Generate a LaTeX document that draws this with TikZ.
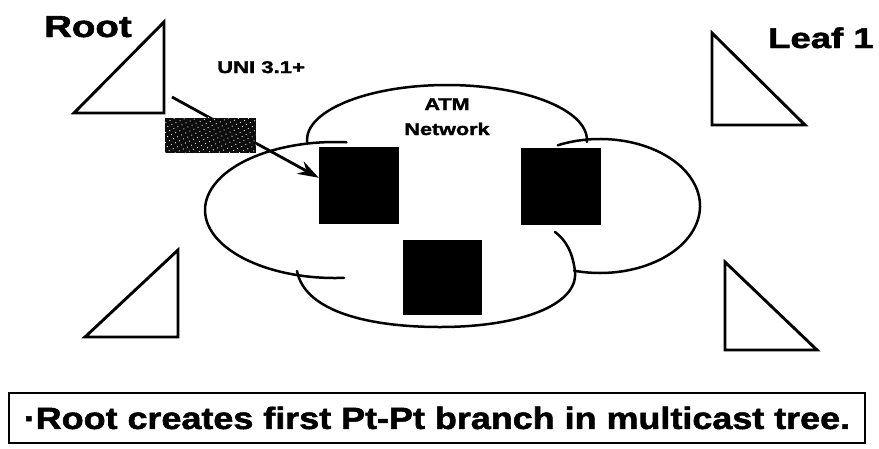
\documentclass[tikz,border=0pt]{standalone}
\usepackage{fontspec}
\setmainfont{Liberation Sans}[BoldFeatures={FakeBold=1.6}]
\usetikzlibrary{arrows.meta,patterns.meta,calc}

% horizontally widened heavy lettering
\newcommand\widetxt[3]{{\fontsize{#1}{#1}\selectfont\bfseries\scalebox{#2}[1]{#3}}}

\begin{document}
\begin{tikzpicture}[x=1pt,y=-1pt,
  tri/.style={line width=2.9pt, line join=miter},
  cloudline/.style={line width=2.5pt, line cap=round},
  switchbox/.style={fill=black, draw=none, inner sep=0, minimum width=80pt, minimum height=77pt},
  lbl/.style={inner sep=0pt},
  card/.style={fill=black!95, draw=none, inner sep=0, minimum width=91pt, minimum height=35pt},
  notebox/.style={draw, line width=2pt, inner sep=0, minimum width=856pt, minimum height=50pt},
  signal/.style={line width=2.8pt, -{Stealth[length=21pt, width=14pt]}}
]
\useasboundingbox (0,0) rectangle (879,448);

% end-point triangles
\draw[tri] (164,22) -- (74,113) -- (164,113) -- cycle;
\draw[tri] (178,250) -- (85,337) -- (178,337) -- cycle;
\draw[tri] (712,33) -- (712,125) -- (805,125) -- cycle;
\draw[tri] (725,262) -- (725,350) -- (817,350) -- cycle;

% labels
\node[lbl, anchor=base west] (root) at (44,37) {\widetxt{30.5}{1.26}{Root}};
\node[lbl, anchor=base west] (leaf) at (768,48) {\widetxt{28.5}{1.28}{Leaf 1}};
\node[lbl, anchor=base west] (uni) at (217,73) {\widetxt{17}{1.3}{UNI 3.1+}};
\node[lbl, anchor=base] (atm) at (447,110) {\widetxt{17}{1.27}{ATM}};
\node[lbl, anchor=base] (net) at (447,135) {\widetxt{17}{1.27}{Network}};

% the cloud of the network
\draw[cloudline] (447,140) ++(178:140 and 55) arc[start angle=178, end angle=362, x radius=140, y radius=55];
\draw[cloudline] (335,210) ++(86:130 and 68) arc[start angle=86, end angle=275, x radius=130, y radius=68];
\draw[cloudline] (600,206) ++(245:100 and 67) arc[start angle=245, end angle=465, x radius=100, y radius=67];
\draw[cloudline] (297,271) .. controls (305,312) and (370,327) .. (440,327)
  .. controls (520,327) and (578,305) .. (575,272)
  .. controls (573,253) and (566,240) .. (555,232);

% switches
\node[switchbox] (s1) at (359,185.5) {};
\node[switchbox] (s2) at (560.5,186.5) {};
\node[switchbox, minimum width=79pt, minimum height=75pt] (s3) at (442.5,277.5) {};

% signalling from the root to the first switch
\coordinate (rootport) at (172,97);
\draw[signal] (rootport) -- ($(s1.north west)!0.4!(s1.south west)$);

% setup message card
\node[card] (msg) at (210.5,135.5) {};
\fill[pattern={Dots[radius=0.6pt, distance=4.5pt, angle=25]}, pattern color=white!80]
  (msg.north west) rectangle (msg.south east);

% caption
\node[notebox] (note) at (437,418) {\widetxt{30.7}{1.17}{\textperiodcentered Root creates first Pt-Pt branch in multicast tree.}};
\end{tikzpicture}
\end{document}
